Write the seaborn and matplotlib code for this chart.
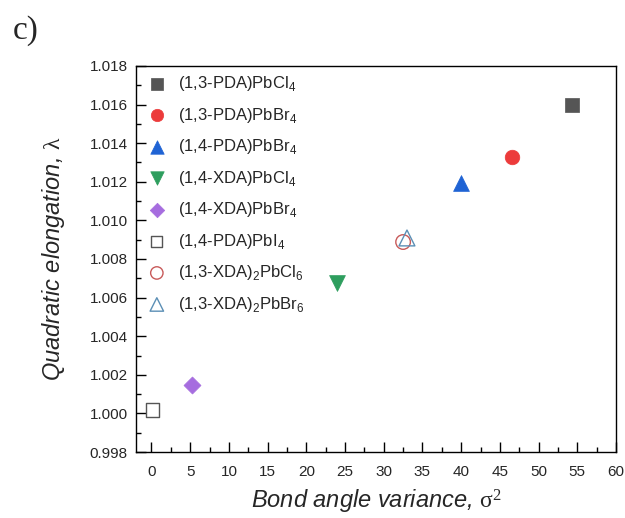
import matplotlib
matplotlib.use('Agg')
import matplotlib.pyplot as plt
import seaborn as sns
from matplotlib.ticker import MultipleLocator

# Data
labels = [r'(1,3-PDA)PbCl$_4$', r'(1,3-PDA)PbBr$_4$', r'(1,4-PDA)PbBr$_4$',
          r'(1,4-XDA)PbCl$_4$', r'(1,4-XDA)PbBr$_4$', r'(1,4-PDA)PbI$_4$',
          r'(1,3-XDA)$_2$PbCl$_6$', r'(1,3-XDA)$_2$PbBr$_6$']
variance = [54.3, 46.6, 40.0, 24.0, 5.2, 0.1, 32.5, 33.0]
elongation = [1.0160, 1.01329, 1.01194, 1.00676, 1.00147, 1.00018, 1.00888, 1.00909]

markers = ['s', 'o', '^', 'v', 'D', 's', 'o', '^']
faces = ['#555555', '#ec3b3b', '#1f63d4', '#2e9e5e', '#a66ddf', 'none', 'none', 'none']
edges = ['#555555', '#ec3b3b', '#1f63d4', '#2e9e5e', '#a66ddf', '#555555', '#c85a5a', '#5b8fb5']
sizes = [90, 110, 130, 130, 75, 90, 110, 130]

sns.set_style('ticks')
plt.rcParams['font.family'] = ['Liberation Sans', 'DejaVu Sans']
plt.rcParams['mathtext.fontset'] = 'custom'
plt.rcParams['mathtext.rm'] = 'Liberation Sans'
plt.rcParams['mathtext.sf'] = 'Liberation Serif'

fig = plt.figure(figsize=(6.25, 5.18), dpi=100)
ax = fig.add_axes([0.2176, 0.1274, 0.768, 0.7452])

for i in range(len(labels)):
    sns.scatterplot(x=[variance[i]], y=[elongation[i]], marker=markers[i], s=sizes[i],
                    facecolor=faces[i], edgecolor=edges[i], linewidth=1.0 if faces[i] == 'none' else 0.5,
                    label=labels[i], ax=ax)

ax.set_xlim(-2, 60)
ax.set_ylim(0.998, 1.018)
ax.xaxis.set_major_locator(MultipleLocator(5))
ax.xaxis.set_minor_locator(MultipleLocator(2.5))
ax.yaxis.set_major_locator(MultipleLocator(0.002))
ax.yaxis.set_minor_locator(MultipleLocator(0.001))
ax.yaxis.set_major_formatter(plt.FormatStrFormatter('%.3f'))
ax.tick_params(which='major', direction='in', length=7, width=1, labelsize=11, color='black')
ax.tick_params(which='minor', direction='in', length=3.5, width=1, color='black')
ax.tick_params(axis='x', pad=9)
ax.tick_params(axis='y', pad=6)
for sp in ax.spines.values():
    sp.set_linewidth(1.0)
    sp.set_color('black')

ax.set_xlabel(r'Bond angle variance, $\mathsf{\sigma^2}$', fontsize=17, style='italic', labelpad=7)
ax.set_ylabel(r'Quadratic elongation, $\mathsf{\lambda}$', fontsize=17, style='italic', labelpad=16)

ax.legend(loc='upper left', frameon=False, fontsize=12, borderaxespad=0.2, markerscale=0.85,
          handlelength=1.5, handletextpad=0.5, labelspacing=0.75, borderpad=0.3)

fig.text(0.02, 0.925, 'c)', fontsize=24, family='Liberation Serif')

fig.savefig('out.png', dpi=100)
